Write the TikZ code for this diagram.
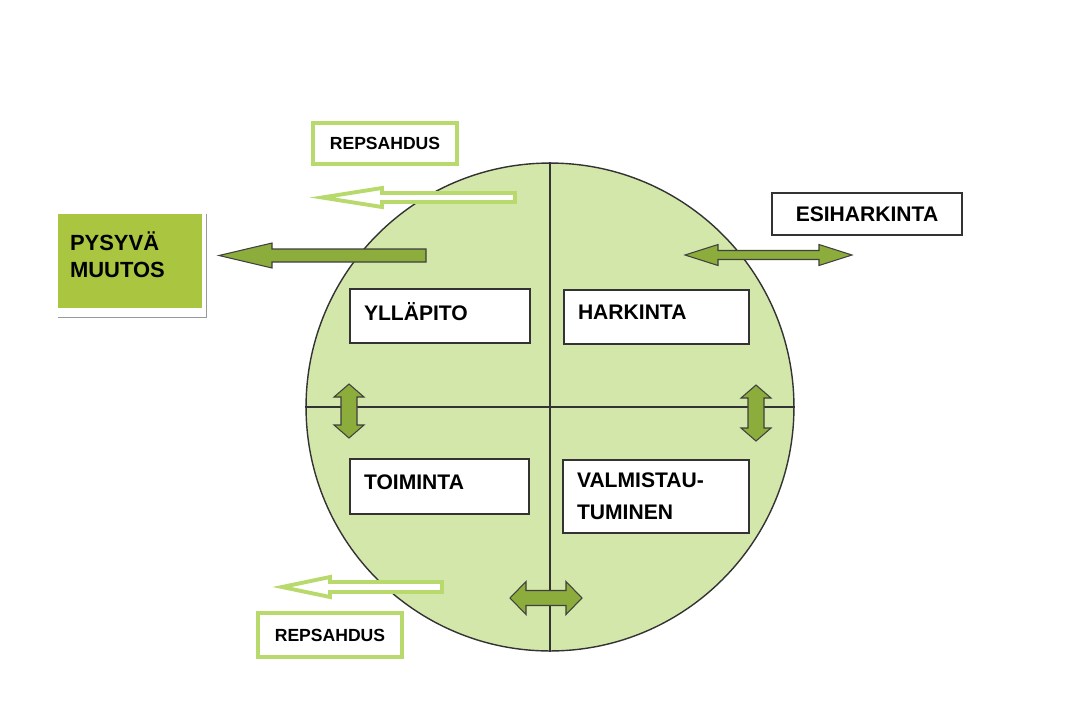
\documentclass[tikz,border=0pt]{standalone}
\usepackage{fontspec}
\setmainfont{Liberation Sans}

\definecolor{wheelgreen}{HTML}{D3E7AA}
\definecolor{olive}{HTML}{8CAC3C}
\definecolor{limebox}{HTML}{AAC640}
\definecolor{lightlime}{HTML}{B8DA6C}

% style, tip x, tail x, y, shaft half, head half, head length
\newcommand{\singlearr}[7]{%
  \draw[#1] (#2,#4) -- ({#2+#7},{#4-#6}) -- ({#2+#7},{#4-#5}) -- (#3,{#4-#5})
    -- (#3,{#4+#5}) -- ({#2+#7},{#4+#5}) -- ({#2+#7},{#4+#6}) -- cycle;}
% style, centre x, centre y, angle, half length, shaft half, head half, head length
\newcommand{\doublearr}[8]{%
  \begin{scope}[shift={(#2,#3)},rotate=#4]
    \draw[#1] (-#5,0) -- ({-#5+#8},-#7) -- ({-#5+#8},-#6) -- ({#5-#8},-#6)
      -- ({#5-#8},-#7) -- (#5,0) -- ({#5-#8},#7) -- ({#5-#8},#6)
      -- ({-#5+#8},#6) -- ({-#5+#8},#7) -- cycle;
  \end{scope}}

\tikzset{
  wheel/.style={circle, draw=black!80, line width=0.8pt, fill=wheelgreen, minimum size=9.76cm, inner sep=0pt},
  stage/.style={draw=black!80, fill=white, line width=0.8pt, align=left, inner xsep=0.28cm,
    text depth=5pt, font=\bfseries\fontsize{12}{18}\selectfont},
  relapse/.style={draw=lightlime, line width=2.2pt, fill=white, minimum width=2.88cm, inner sep=0pt,
    font=\bfseries\fontsize{10}{12}\selectfont},
  thick arr/.style={fill=olive, draw=black!75, line width=0.6pt},
  hollow arr/.style={fill=white, draw=lightlime, line width=2.2pt, line join=miter},
}

\begin{document}
\begin{tikzpicture}[x=0.02cm, y=-0.02cm]
  \useasboundingbox[fill=white] (0,0) rectangle (1092,718);

  % the wheel
  \node[wheel] (wheel) at (550,407) {};
  \draw[black!80, line width=0.8pt] (wheel.north) -- (wheel.south);
  \draw[black!80, line width=0.8pt] (wheel.west) -- (wheel.east);

  % stages
  \node[stage, text width=3.04cm, minimum height=1.08cm] (yllapito) at (440,316) {YLLÄPITO};
  \node[stage, text width=3.14cm, minimum height=1.08cm] (harkinta) at (656.5,317) {HARKINTA};
  \node[stage, text width=3.02cm, minimum height=1.10cm] (toiminta) at (439.5,486.5) {TOIMINTA};
  \node[stage, text width=3.16cm, minimum height=1.46cm, text depth={}] (valmistautuminen) at (656,496.5) {VALMISTAU-\\TUMINEN};

  \node[draw=black!80, line width=0.8pt, fill=white, minimum width=3.8cm, minimum height=0.84cm,
    font=\bfseries\fontsize{12}{14}\selectfont] (esiharkinta) at (867,214) {ESIHARKINTA};

  \node[relapse, minimum height=0.82cm] (repsahdus1) at (385,143.5) {REPSAHDUS};
  \node[relapse, minimum height=0.88cm] (repsahdus2) at (330,635) {REPSAHDUS};

  \node[fill=limebox, minimum width=2.88cm, minimum height=1.88cm, text width=2.4cm, inner xsep=0.24cm,
    align=left, text depth=23pt, font=\bfseries\fontsize{12.5}{15.3}\selectfont] (muutos) at (130,261) {PYSYVÄ\\MUUTOS};
  \draw[black!40, line width=0.6pt] ([xshift=0.08cm]muutos.north east) |- ([yshift=-0.18cm]muutos.south west);

  % arrows
  \singlearr{thick arr}{219}{426}{255.5}{6.5}{12.5}{53}
  \singlearr{hollow arr}{322}{515}{197.5}{4.5}{9.5}{60}
  \singlearr{hollow arr}{282}{442}{587}{5}{10}{48}
  \doublearr{thick arr}{768.5}{255}{0}{83.5}{4.5}{10.5}{33}
  \doublearr{thick arr}{349}{411}{90}{27}{8}{15}{13}
  \doublearr{thick arr}{756}{413}{90}{28}{8}{15}{13}
  \doublearr{thick arr}{546}{598}{0}{36}{7.5}{16.5}{16}
\end{tikzpicture}
\end{document}
